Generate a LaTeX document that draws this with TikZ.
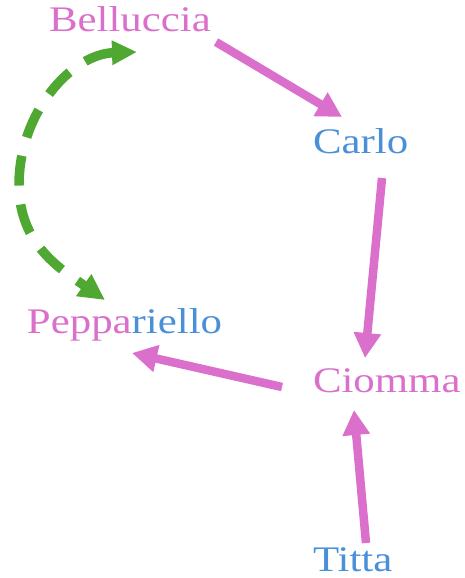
\documentclass[tikz,border=0pt]{standalone}
\usepackage{fontspec}
\setmainfont{Liberation Serif}[FakeStretch=1.19]
\usetikzlibrary{arrows.meta,calc}
\definecolor{pk}{RGB}{218,112,204}
\definecolor{bl}{RGB}{74,144,217}
\definecolor{gr}{RGB}{78,168,50}
\tikzset{
  person/.style={inner sep=0pt,outer sep=0pt,anchor=base west,font=\fontsize{36}{40}\selectfont},
  pinkarrow/.style={draw=pk,line width=8.5pt,-{Triangle[length=25pt,width=26pt]}},
  greenarrow/.style={draw=gr,line width=9.5pt,dash pattern=on 30pt off 19pt,{Triangle[length=25pt,width=23pt]}-{Triangle[length=26pt,width=25pt]}}
}
\begin{document}
\begin{tikzpicture}[x=1pt,y=-1pt]
\useasboundingbox (0,0) rectangle (465,578);
\node[person,text=pk] (bel) at (49,32) {Belluccia};
\node[person,text=bl] (car) at (313,153) {Carlo};
\node[person] (pep) at (27,333) {\textcolor{pk}{Peppa}\textcolor{bl}{riello}};
\node[person,text=pk] (cio) at (313,392) {Ciomma};
\node[person,text=bl] (tit) at (313,571) {Titta};
\draw[pinkarrow] ($(bel.base west)+(167,10)$) -- ($(car.base west)+(29,-36)$);
\draw[pinkarrow] ($(car.base west)+(69,25)$) -- ($(cio.base west)+(52,-34)$);
\draw[pinkarrow] ($(cio.base west)+(-31,-5)$) -- ($(pep.base west)+(105,20)$);
\draw[pinkarrow] ($(tit.base west)+(53,-28)$) -- ($(cio.base west)+(41,18)$);
\draw[greenarrow] ($(bel.base west)+(88,20)$) .. controls (72,54) and (19,112) .. (19,185)
  .. controls (19,245) and (62,270) .. ($(pep.base west)+(78,-33)$);
\end{tikzpicture}
\end{document}
